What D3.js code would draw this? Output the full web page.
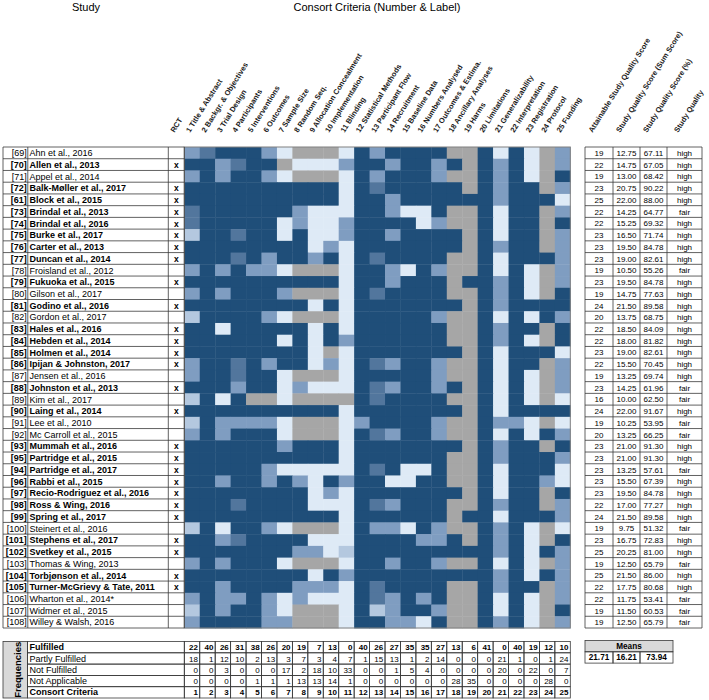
<!DOCTYPE html>
<html lang="en">
<head>
<meta charset="utf-8">
<title>Consort criteria heatmap</title>
<script src="https://d3js.org/d3.v7.min.js"></script>
<style>
body { margin: 0; background: #fff; font-family: "Liberation Sans", Arial, sans-serif; }
</style>
</head>
<body>
<div id="vis"></div>
<script>

/* Data */
/* ==== */

var refs = ['69','70','71','72','61','73','74','75','76','77','78','79','80','81','82','83','84','85','86','87','88',
	'89','90','91','92','93','95','94','96','97','98','99','100','101','102','103','104','105','106','107','108'];

var names = ['Ahn et al., 2016','Allen et al., 2013','Appel et al., 2014','Balk-Møller et al., 2017','Block et al., 2015',
	'Brindal et al., 2013','Brindal et al., 2016','Burke et al., 2017','Carter et al., 2013','Duncan et al., 2014',
	'Froisland et al., 2012','Fukuoka et al., 2015','Gilson et al., 2017','Godino et al., 2016','Gordon et al., 2017',
	'Hales et al., 2016','Hebden et al., 2014','Holmen et al., 2014','Ipijan & Johnston, 2017','Jensen et al., 2016',
	'Johnston et al., 2013','Kim et al., 2017','Laing et al., 2014','Lee et al., 2010','Mc Carroll et al., 2015',
	'Mummah et al., 2016','Partridge et al., 2015','Partridge et al., 2017','Rabbi et al., 2015',
	'Recio-Rodriguez et al., 2016','Ross & Wing, 2016','Spring et al., 2017','Steinert et al., 2016',
	'Stephens et al., 2017','Svetkey et al., 2015','Thomas & Wing, 2013','Torbjønson et al., 2014',
	'Turner-McGrievy & Tate, 2011','Wharton et al., 2014*','Widmer et al., 2015','Willey & Walsh, 2016'];

var rct = [0,1,0,1,1,1,1,1,1,1,0,1,0,1,0,1,1,1,1,0,1,0,1,0,0,1,1,1,1,1,1,1,0,1,1,0,1,1,0,0,0];

// F fulfilled, D 0.75, P 0.5, L 0.25, N not fulfilled, G not applicable
var ratings = [
	'PDFFFPNGGGNFPFFFFGGFNFNGP',
	'FFPDFFGNNNPFFPFFPFGFPFNGP',
	'PFPFFPNGGGNFPFFFPGGFPFNGF',
	'FFFFFFFFFFNFDFFFFFGFPFFGP',
	'FFFFFFFFFFNFFPFFFFFFPFFFN',
	'DFFFFFFPNNNFFPNNFGGFNFFGP',
	'DFFFFFNPNNPFFFFNPGGFNFFGF',
	'LFFDFFNFNNPFFPFFFFGFNFFGP',
	'FFFFFFFFNPNFFFFFFFGFPFFGP',
	'FFFDFPFFPFNFDFFFFGGFNFFFP',
	'PFPFPPNGGGNFFPNFPGGFNFNGP',
	'FFFFFFFFFFNFFPFFFGFFPFNGP',
	'PFPFFFPGGGNFDFFFFGGFPFNGF',
	'FFFFFFFFNFNFFFFFFFGFPFFFF',
	'LFFFFPNGGGNFFFFFPGGFNFNFP',
	'FFNFFFFFNFNFFFFFFGGFPFFGF',
	'FFFFFFNFNFPFFFFFFGGFPFNGF',
	'FFFFFFFFNGNFFFFFFFGFNFFFN',
	'PFFDFPFFNPNFDPFFPGGFNFFGP',
	'PFFDFFNGGGNFFFFFPGGFNFNGP',
	'FFFPFFNPNNNFDPFFPFGFNFNGP',
	'LFNFGGNGGGGFDFFFFGGFNFNGN',
	'FFFFFFFFFFNFFFFFFFGFNFFFF',
	'LFPPPPNGGGNPFFFFPGGFPPNGN',
	'PFPFFFNGGGNFDPFFPGGFNFNFP',
	'FFFFFFPFFFNFFFFFFFGFPFFGF',
	'FFFFFFFFFFNFFFFFFGGFPFFFP',
	'FFFFFPNNNNNFDFNNFGGFNFFFN',
	'FFPFFPFPNFPFFNNFFGGFNFFPN',
	'FFFFFFFFNPNFFFFFFFGFNFFGF',
	'FFFDFFFFNNNFDPFFFGGFPFFGP',
	'FFFFFFFFFFNFFFFFFGFFNFFFP',
	'LFNFFPNGGGNFPPNFPGGFPFNGN',
	'FFPDFFFFNNNFFFFPPFGFPFNGF',
	'FFFFFFFPPNLFFFFFFFFFPFNFP',
	'PFPFFFNGGGNFFPFFPGGFNFNGP',
	'FFFFFFFFNFPFFFFFFFFFPFNFP',
	'FFPFFFFPPPNFDFFFFGGFPFFGP',
	'PFPPFPNPNNNFDPFPFGGFNFNGP',
	'LFPFFPNGGGNFLPFFPGGFNFNGF',
	'PFFFFPPGGGNFFPPNFGGFPFNGP'
];

var attainable = [19,22,19,23,25,22,22,23,23,23,19,23,19,24,20,22,22,23,22,19,23,16,24,19,20,23,23,23,23,23,22,24,19,23,25,19,25,22,22,19,19];
var sumScore = ['12.75','14.75','13.00','20.75','22.00','14.25','15.25','16.50','19.50','19.00','10.50','19.50','14.75','21.50',
	'13.75','18.50','18.00','19.00','15.50','13.25','14.25','10.00','22.00','10.25','13.25','21.00','21.00','13.25','15.50',
	'19.50','17.00','21.50','9.75','16.75','20.25','12.50','21.50','17.75','11.75','11.50','12.50'];
var pctScore = ['67.11','67.05','68.42','90.22','88.00','64.77','69.32','71.74','84.78','82.61','55.26','84.78','77.63','89.58',
	'68.75','84.09','81.82','82.61','70.45','69.74','61.96','62.50','91.67','53.95','66.25','91.30','91.30','57.61','67.39',
	'84.78','77.27','89.58','51.32','72.83','81.00','65.79','86.00','80.68','53.41','60.53','65.79'];
var quality = ['high','high','high','high','high','fair','high','high','high','high','fair','high','high','high','high','high',
	'high','high','high','high','fair','fair','high','fair','fair','high','high','fair','high','high','high','high','fair',
	'high','high','fair','high','high','fair','fair','fair'];

var criteria = ['1 Title & Abstract','2 Backgr. & Objectives','3 Trial Design','4 Participants','5 Interventions',
	'6 Outcomes','7 Sample Size','8 Random Seq.','9 Allocation Concealment','10 Implementation','11 Blinding',
	'12 Statistical Methods','13 Participant Flow','14 Recruitment','15 Baseline Data','16 Numbers Analysed',
	'17 Outcomes & Estima.','18 Ancillary Analyses','19 Harms','20 Limitations','21 Generalizability',
	'22 Interpretation','23 Registration','24 Protocol','25 Funding'];

var scoreHeads = ['Attainable Study Quality Score','Study Quality Score (Sum Score)','Study Quality Score (%)','Study Quality'];

var freqLabels = ['Fulfilled','Partly Fulfilled','Not Fulfilled','Not Applicable','Consort Criteria'];
var fulfilled    = [22,40,26,31,38,26,20,19,7,13,0,40,26,27,35,35,27,13,6,41,0,40,19,12,10];
var partly       = [18,1,12,10,2,13,3,7,3,4,7,1,15,13,1,2,14,0,0,0,21,1,0,1,24];
var notFulfilled = [0,0,3,0,0,0,17,2,18,10,33,0,0,1,5,4,0,0,0,0,20,0,22,0,7];
var notApplic    = [0,0,0,0,1,1,1,13,13,14,1,0,0,0,0,0,0,28,35,0,0,0,0,28,0];

var means = ['21.71','16.21','73.94'];


/* SVG and scales */
/* ============== */

var width = 709, height = 700;

var svg = d3.select('#vis').append('svg')
	.attr('width', width)
	.attr('height', height)
	.style('font-family', '"Liberation Sans", Arial, sans-serif');

var colIds = d3.range(1, 26);
var rowIds = d3.range(refs.length);

var x = d3.scaleBand().domain(colIds).range([184.3, 570.3]);
var y = d3.scaleBand().domain(rowIds).range([147, 628]);
var fy = d3.scaleBand().domain(d3.range(5)).range([641.5, 698]);

var colour = d3.scaleOrdinal()
	.domain(['F','D','P','L','N','G'])
	.range(['#1f4e79','#52769d','#7f9dc1','#b4c8df','#deeaf6','#a6a6a6']);

var scoreX = [585, 613, 640, 667, 702];
var lineCol = '#3a3a3a';


/* Titles */
/* ====== */

svg.append('text').attr('x', 86).attr('y', 11).attr('text-anchor', 'middle')
	.style('font-size', '11px').text('Study');
svg.append('text').attr('x', 377).attr('y', 11).attr('text-anchor', 'middle')
	.style('font-size', '11px').text('Consort Criteria (Number & Label)');


/* Rotated headers */
/* =============== */

function rotLabel(cx, txt) {
	svg.append('text')
		.attr('transform', 'translate(' + cx + ',133) rotate(-58)')
		.style('font-size', '7.5px')
		.style('font-weight', 'bold')
		.style('fill', '#1a1a1a')
		.text(txt);
}

rotLabel(174.5, 'RCT');
criteria.forEach(function(c, i) {
	rotLabel(x(i + 1) + x.bandwidth() / 2 - 2, c);
});
scoreHeads.forEach(function(c, i) {
	rotLabel((scoreX[i] + scoreX[i + 1]) / 2 - 6.5, c);
});


/* Heatmap */
/* ======= */

var cellData = [];
ratings.forEach(function(r, i) {
	r.split('').forEach(function(v, j) {
		cellData.push({ row: i, col: j + 1, v: v });
	});
});

svg.append('g').selectAll('rect')
	.data(cellData)
	.join('rect')
		.attr('x', function(d) { return x(d.col); })
		.attr('y', function(d) { return y(d.row); })
		.attr('width', x.bandwidth() + 0.4)
		.attr('height', y.bandwidth() + 0.4)
		.attr('fill', function(d) { return colour(d.v); });

svg.append('rect')
	.attr('x', x.range()[0]).attr('y', y.range()[0])
	.attr('width', x.range()[1] - x.range()[0])
	.attr('height', y.range()[1] - y.range()[0])
	.attr('fill', 'none').attr('stroke', '#808080').attr('stroke-width', 1);


/* Study table */
/* =========== */

var study = svg.append('g');

rowIds.forEach(function(i) {
	var top = y(i), bold = rct[i] ? 'bold' : 'normal';
	study.append('text').attr('x', 26.8).attr('y', top + 9.2).attr('text-anchor', 'end')
		.style('font-size', '9px').style('font-weight', bold).text('[' + refs[i] + ']');
	study.append('text').attr('x', 29.5).attr('y', top + 9.2)
		.style('font-size', '9px').style('font-weight', bold).text(names[i]);
	if (rct[i]) {
		study.append('text').attr('x', 176.3).attr('y', top + 9.2).attr('text-anchor', 'middle')
			.style('font-size', '8.5px').style('font-weight', 'bold').text('x');
	}
});

rowIds.concat([refs.length]).forEach(function(i) {
	var yy = i < refs.length ? y(i) : y.range()[1];
	study.append('line').attr('x1', 3).attr('x2', 184.3).attr('y1', yy).attr('y2', yy)
		.attr('stroke', lineCol).attr('stroke-width', 0.8);
});
[3, 27.8, 168.3, 184.3].forEach(function(xx) {
	study.append('line').attr('x1', xx).attr('x2', xx).attr('y1', y.range()[0]).attr('y2', y.range()[1])
		.attr('stroke', lineCol).attr('stroke-width', 0.8);
});


/* Score table */
/* =========== */

var score = svg.append('g');

rowIds.forEach(function(i) {
	var vals = [attainable[i], sumScore[i], pctScore[i], quality[i]];
	vals.forEach(function(v, k) {
		score.append('text')
			.attr('x', (scoreX[k] + scoreX[k + 1]) / 2)
			.attr('y', y(i) + 9)
			.attr('text-anchor', 'middle')
			.style('font-size', '8px')
			.text(v);
	});
});

rowIds.concat([refs.length]).forEach(function(i) {
	var yy = i < refs.length ? y(i) : y.range()[1];
	score.append('line').attr('x1', scoreX[0]).attr('x2', scoreX[4]).attr('y1', yy).attr('y2', yy)
		.attr('stroke', lineCol).attr('stroke-width', 0.8);
});
scoreX.forEach(function(xx) {
	score.append('line').attr('x1', xx).attr('x2', xx).attr('y1', y.range()[0]).attr('y2', y.range()[1])
		.attr('stroke', lineCol).attr('stroke-width', 0.8);
});


/* Frequencies */
/* =========== */

var freq = svg.append('g');
var freqRows = [fulfilled, partly, notFulfilled, notApplic, colIds];

freq.append('rect')
	.attr('x', 3).attr('y', fy.range()[0])
	.attr('width', 24.5).attr('height', fy.range()[1] - fy.range()[0])
	.attr('fill', '#d9d9d9').attr('stroke', lineCol).attr('stroke-width', 0.8);

freq.append('text')
	.attr('transform', 'translate(20.5,' + ((fy.range()[0] + fy.range()[1]) / 2) + ') rotate(-90)')
	.attr('text-anchor', 'middle')
	.style('font-size', '9.5px').style('font-weight', 'bold')
	.text('Frequencies');

freqRows.forEach(function(arr, r) {
	var top = fy(r), h = fy.bandwidth();
	var bold = (r === 0 || r === 4) ? 'bold' : 'normal';

	freq.append('rect').attr('x', 27.5).attr('y', top).attr('width', 156.8).attr('height', h)
		.attr('fill', 'none').attr('stroke', lineCol).attr('stroke-width', 0.8);
	freq.append('text').attr('x', 29.5).attr('y', top + h - 2.6)
		.style('font-size', '9px').style('font-weight', bold).text(freqLabels[r]);

	arr.forEach(function(v, j) {
		freq.append('rect').attr('x', x(j + 1)).attr('y', top)
			.attr('width', x.bandwidth()).attr('height', h)
			.attr('fill', 'none').attr('stroke', lineCol).attr('stroke-width', 0.8);
		freq.append('text').attr('x', x(j + 1) + x.bandwidth() - 1.8).attr('y', top + h - 2.6)
			.attr('text-anchor', 'end')
			.style('font-size', '8px').style('font-weight', bold).text(v);
	});
});


/* Means */
/* ===== */

var meansX = [585, 613, 640, 673];
var mTop = 640.5, mH = 11.3;

svg.append('rect').attr('x', meansX[0]).attr('y', mTop).attr('width', meansX[3] - meansX[0]).attr('height', mH)
	.attr('fill', '#d9d9d9').attr('stroke', lineCol).attr('stroke-width', 0.8);
svg.append('text').attr('x', (meansX[0] + meansX[3]) / 2).attr('y', mTop + 8.4).attr('text-anchor', 'middle')
	.style('font-size', '8.2px').style('font-weight', 'bold').text('Means');

means.forEach(function(v, k) {
	svg.append('rect').attr('x', meansX[k]).attr('y', mTop + mH)
		.attr('width', meansX[k + 1] - meansX[k]).attr('height', mH)
		.attr('fill', 'none').attr('stroke', lineCol).attr('stroke-width', 0.8);
	svg.append('text').attr('x', (meansX[k] + meansX[k + 1]) / 2).attr('y', mTop + mH + 8.5)
		.attr('text-anchor', 'middle')
		.style('font-size', '8.2px').style('font-weight', 'bold').text(v);
});

</script>
</body>
</html>
